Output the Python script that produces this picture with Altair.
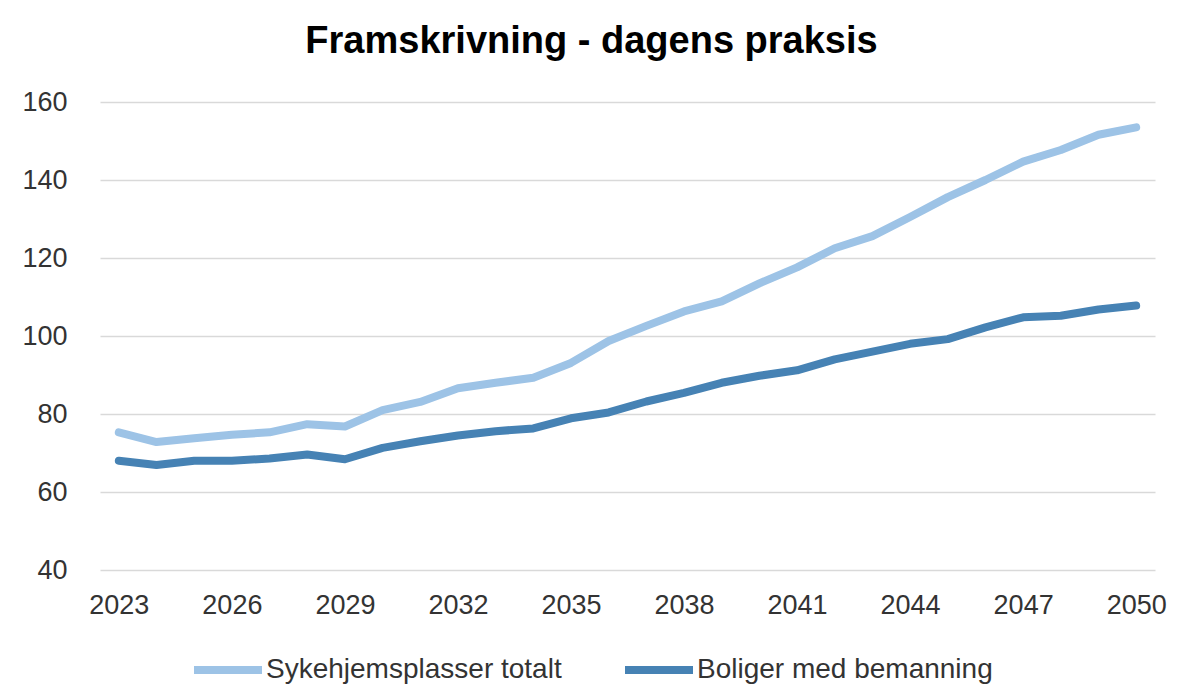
import altair as alt
import pandas as pd

years = list(range(2023, 2051))
sykehjem = [75.3, 72.8, 73.8, 74.7, 75.3, 77.4, 76.8, 81.0, 83.1, 86.6,
            88.0, 89.3, 93.1, 98.7, 102.6, 106.3, 108.9, 113.5, 117.6, 122.5,
            125.6, 130.5, 135.6, 140.0, 144.7, 147.7, 151.6, 153.5]
boliger = [68.0, 66.9, 68.0, 68.0, 68.6, 69.6, 68.4, 71.3, 73.0, 74.5,
           75.6, 76.3, 78.9, 80.4, 83.2, 85.4, 88.0, 89.8, 91.2, 94.0,
           96.0, 98.0, 99.2, 102.2, 104.8, 105.2, 106.8, 107.8]
series_names = ["Sykehjemsplasser totalt", "Boliger med bemanning"]
series_colors = ["#9DC3E6", "#4682B4"]
x_ticks = list(range(2023, 2051, 3))
y_ticks = [40, 60, 80, 100, 120, 140, 160]

df = pd.concat([
    pd.DataFrame({"år": years, "verdi": sykehjem, "serie": series_names[0]}),
    pd.DataFrame({"år": years, "verdi": boliger, "serie": series_names[1]}),
])

FONT = "Liberation Sans"

chart = alt.Chart(df).mark_line(
    strokeWidth=8, strokeCap="round", strokeJoin="round"
).encode(
    x=alt.X("år:Q",
            scale=alt.Scale(domain=[2022.5, 2050.5], nice=False, zero=False),
            axis=alt.Axis(values=x_ticks, format="d", title=None, grid=False,
                          ticks=False, domain=False, labelFontSize=27,
                          labelFont=FONT, labelColor="#333333",
                          labelPadding=22)),
    y=alt.Y("verdi:Q",
            scale=alt.Scale(domain=[40, 160], nice=False, zero=False),
            axis=alt.Axis(values=y_ticks, title=None, grid=True,
                          gridColor="#D9D9D9", gridWidth=1.5,
                          ticks=False, domain=False, labelFontSize=27,
                          labelFont=FONT, labelColor="#333333",
                          labelPadding=33)),
    color=alt.Color("serie:N",
                    scale=alt.Scale(domain=series_names, range=series_colors),
                    sort=series_names,
                    legend=alt.Legend(title=None, orient="none",
                                      direction="horizontal",
                                      legendX=90, legendY=530,
                                      symbolType="stroke",
                                      symbolSize=4624, symbolStrokeWidth=8,
                                      labelFontSize=28, labelFont=FONT,
                                      labelColor="#333333", labelOffset=0,
                                      labelLimit=0,
                                      columnPadding=47, padding=0)),
).properties(
    width=1055,
    height=468,
    title=alt.TitleParams("Framskrivning - dagens praksis", fontSize=38,
                          font=FONT, fontWeight="bold", color="#000000",
                          anchor="middle", dx=-36, offset=27),
    autosize=alt.AutoSizeParams(type="none"),
    padding={"left": 92, "top": 94, "right": 23, "bottom": 120},
).configure_view(stroke=None)

chart.save("out.html", embed_options={"renderer": "svg", "actions": False})
